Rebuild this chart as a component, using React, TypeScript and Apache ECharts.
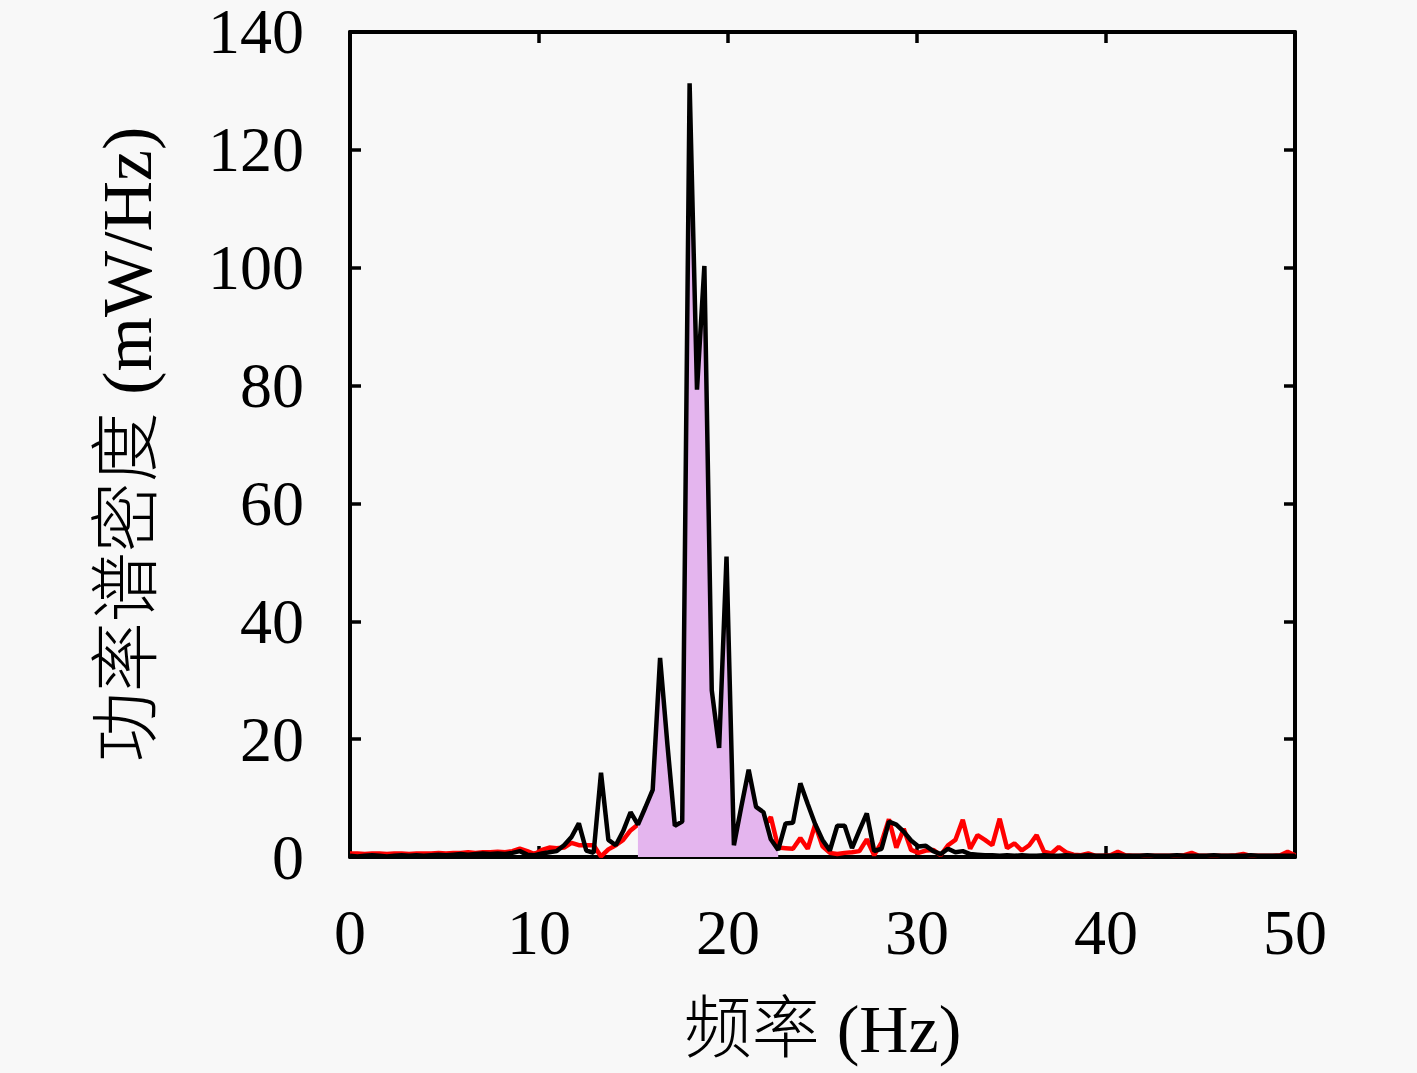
import React, { useEffect, useRef } from "react";
import * as echarts from "echarts";

// Frequency grid: 129 FFT bins from 0 to 50 Hz
const N_BINS = 129;
const F_MAX = 50;

// Black series (power spectral density, mW/Hz)
const blackValues = [
  0.2, 0.1, 0.2, 0.3, 0.2, 0.1, 0.2, 0.3, 0.2, 0.3,
  0.2, 0.3, 0.4, 0.3, 0.4, 0.5, 0.4, 0.5, 0.6, 0.5,
  0.6, 0.5, 0.7, 1.0, 0.4, 0.3, 0.6, 0.8, 1.0, 2.0,
  3.4, 5.7, 1.1, 0.7, 14.3, 2.9, 2.0, 4.4, 7.6, 5.5,
  8.4, 11.4, 33.8, 19.0, 5.3, 6.0, 131.3, 79.3, 100.3, 28.3,
  18.5, 51.0, 2.0, 8.5, 14.8, 8.5, 7.6, 3.0, 1.2, 5.7,
  5.8, 12.5, 9.0, 5.6, 2.9, 1.1, 5.3, 5.3, 1.5, 4.5,
  7.4, 1.0, 1.4, 6.0, 5.5, 4.3, 2.8, 1.8, 1.9, 1.0,
  0.5, 1.4, 0.8, 1.0, 0.5, 0.4, 0.3, 0.3, 0.2, 0.3,
  0.2, 0.3, 0.2, 0.2, 0.3, 0.2, 0.2, 0.3, 0.2, 0.2,
  0.3, 0.2, 0.2, 0.2, 0.3, 0.2, 0.2, 0.2, 0.3, 0.2,
  0.2, 0.2, 0.3, 0.2, 0.2, 0.2, 0.2, 0.3, 0.2, 0.2,
  0.2, 0.2, 0.3, 0.2, 0.2, 0.2, 0.2, 0.2, 0.2,
];

// Red series
const redValues = [
  0.6, 0.6, 0.5, 0.6, 0.6, 0.5, 0.6, 0.6, 0.5, 0.6,
  0.6, 0.6, 0.7, 0.6, 0.7, 0.7, 0.8, 0.7, 0.8, 0.8,
  0.9, 0.8, 1.0, 1.4, 1.0, 0.5, 1.2, 1.6, 1.5, 1.6,
  2.4, 2.0, 2.0, 2.0, 0.1, 1.3, 2.0, 2.9, 4.5, 5.5,
  5.0, 4.0, 6.0, 5.0, 4.0, 5.0, 6.0, 5.0, 6.0, 4.0,
  5.0, 3.0, 1.5, 2.0, 3.0, 4.0, 5.0, 6.8, 1.6, 1.5,
  1.4, 3.2, 1.4, 5.5, 1.8, 0.7, 0.5, 0.7, 0.8, 1.0,
  3.0, 0.3, 2.5, 6.4, 1.6, 4.8, 1.2, 0.7, 1.1, 1.2,
  0.3, 2.0, 2.9, 6.3, 1.4, 3.7, 2.9, 2.0, 6.5, 1.5,
  2.3, 1.1, 2.0, 3.7, 0.9, 0.6, 1.7, 0.8, 0.4, 0.3,
  0.6, 0.2, 0.2, 0.3, 0.9, 0.3, 0.2, 0.2, 0.2, 0.2,
  0.2, 0.2, 0.2, 0.3, 0.7, 0.2, 0.2, 0.2, 0.2, 0.2,
  0.3, 0.5, 0.2, 0.2, 0.2, 0.2, 0.3, 0.9, 0.3,
];

// Shaded band (bin indices, inclusive)
const fillStartBin = 39;
const fillEndBin = 58;

const xTicks = { min: 0, max: 50, interval: 10 };
const yTicks = { min: 0, max: 140, interval: 20 };

const xName = "频率 (Hz)";
const yName = "功率谱密度 (mW/Hz)";

const FONT = "'Liberation Serif', 'Noto Sans CJK SC', serif";

export default function App() {
  const ref = useRef<HTMLDivElement>(null);

  useEffect(() => {
    if (!ref.current) return;
    const chart = echarts.init(ref.current, null, { renderer: "svg" });
    const freq = (i: number) => (i * F_MAX) / (N_BINS - 1);
    const black = blackValues.map((v, i) => [freq(i), v]);
    const red = redValues.map((v, i) => [freq(i), v]);
    const fill = blackValues
      .map((v, i) => [freq(i), v, i])
      .filter((p) => p[2] >= fillStartBin && p[2] <= fillEndBin)
      .map((p) => [p[0], p[1]]);

    const axisLine = { show: true, onZero: false, lineStyle: { color: "#000", width: 4 } };
    const tick = { show: true, inside: true, length: 11, lineStyle: { color: "#000", width: 3.5 } };
    const label = { color: "#000", fontSize: 64, fontFamily: FONT, lineHeight: 46 };

    chart.setOption({
      animation: false,
      backgroundColor: "#f8f8f8",
      grid: { left: 350, right: 122, top: 31, bottom: 216, containLabel: false },
      xAxis: [
        {
          type: "value",
          ...xTicks,
          axisLine,
          axisTick: tick,
          axisLabel: { ...label, margin: 52 },
          splitLine: { show: false },
          name: xName,
          nameLocation: "middle",
          nameGap: 138,
          nameTextStyle: { color: "#000", fontSize: 68, fontFamily: FONT, fontWeight: 300 },
        },
        {
          type: "value",
          position: "top",
          ...xTicks,
          axisLine,
          axisTick: tick,
          axisLabel: { show: false },
          splitLine: { show: false },
        },
      ],
      yAxis: [
        {
          type: "value",
          ...yTicks,
          axisLine,
          axisTick: tick,
          axisLabel: { ...label, margin: 46 },
          splitLine: { show: false },
          name: yName,
          nameLocation: "middle",
          nameRotate: 90,
          nameGap: 188,
          nameTextStyle: { color: "#000", fontSize: 70, fontFamily: FONT, fontWeight: 300 },
        },
        {
          type: "value",
          position: "right",
          ...yTicks,
          axisLine,
          axisTick: tick,
          axisLabel: { show: false },
          splitLine: { show: false },
        },
      ],
      series: [
        {
          type: "line",
          data: red,
          symbol: "none",
          lineStyle: { color: "#ff0000", width: 4.5 },
          z: 1,
        },
        {
          type: "line",
          data: fill,
          symbol: "none",
          lineStyle: { width: 0, color: "#e4b5ee" },
          areaStyle: { color: "#e4b5ee", opacity: 1 },
          z: 2,
        },
        {
          type: "line",
          data: black,
          symbol: "none",
          lineStyle: { color: "#000000", width: 4.5 },
          z: 3,
        },
      ],
    });
    return () => chart.dispose();
  }, []);

  return (
    <div
      ref={ref}
      style={{ position: "fixed", left: 0, top: 0, width: 1417, height: 1073, background: "#f8f8f8" }}
    />
  );
}
